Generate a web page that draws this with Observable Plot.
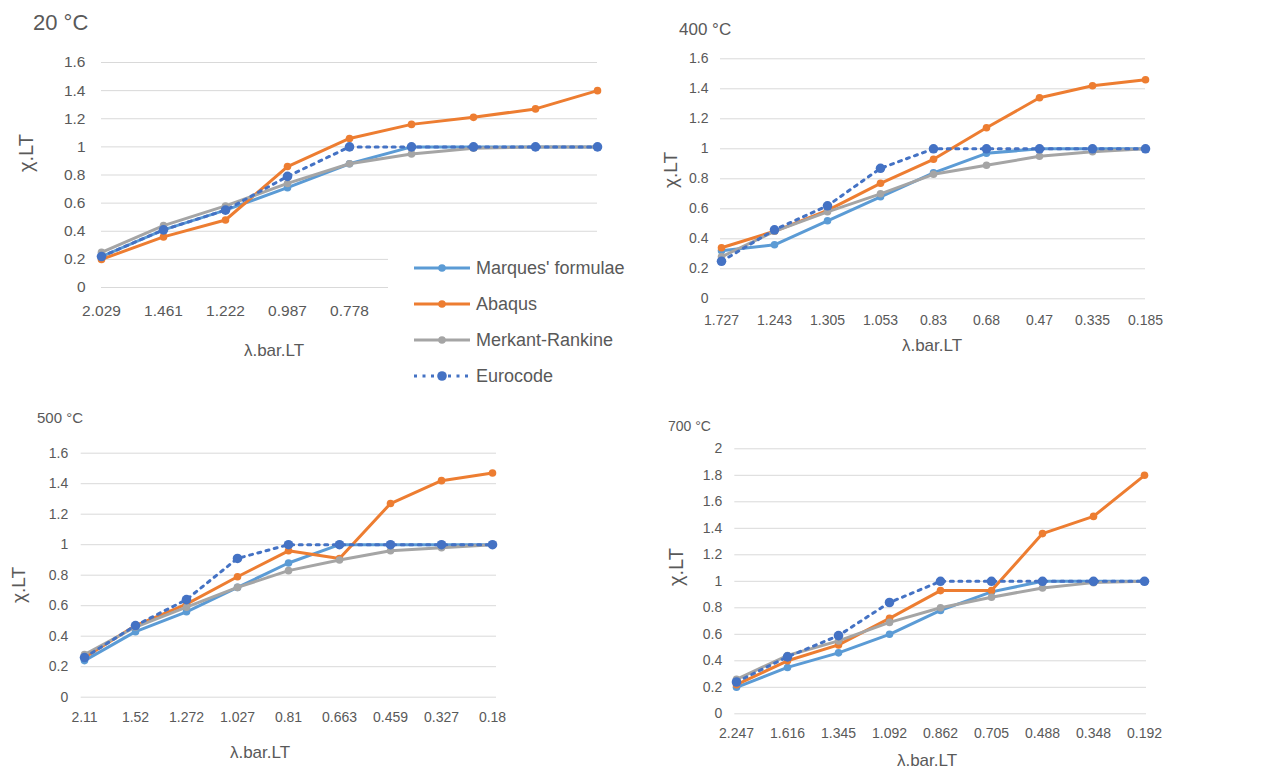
<!DOCTYPE html>
<html>
<head>
<meta charset="utf-8">
<script src="https://cdn.jsdelivr.net/npm/d3@7"></script>
<script src="https://cdn.jsdelivr.net/npm/@observablehq/plot@0.6"></script>
<style>
  body { margin: 0; background: #fff; }
  #wrap { position: relative; width: 1262px; height: 769px; overflow: hidden;
          font-family: "Liberation Sans", Arial, sans-serif; color: #595959; }
  .abs { position: absolute; white-space: nowrap; line-height: 1; }
</style>
</head>
<body>
<div id="wrap"></div>
<script>
// Series shared by all four temperature panels
const series = ["Marques' formulae", "Abaqus", "Merkant-Rankine", "Eurocode"];
const seriesColors = ["#5B9BD5", "#ED7D31", "#A5A5A5", "#4472C4"];

// 20 °C — only the first five slenderness labels are visible, the legend sits over the rest
const lambda20 = ["2.029", "1.461", "1.222", "0.987", "0.778"];
const marques20  = [0.22, 0.41, 0.55, 0.71, 0.88, 1.00, 1.00, 1.00, 1.00];
const abaqus20   = [0.20, 0.36, 0.48, 0.86, 1.06, 1.16, 1.21, 1.27, 1.40];
const merkant20  = [0.25, 0.44, 0.58, 0.74, 0.88, 0.95, 0.99, 1.00, 1.00];
const eurocode20 = [0.22, 0.41, 0.55, 0.79, 1.00, 1.00, 1.00, 1.00, 1.00];

// 400 °C
const lambda400 = ["1.727", "1.243", "1.305", "1.053", "0.83", "0.68", "0.47", "0.335", "0.185"];
const marques400  = [0.32, 0.36, 0.52, 0.68, 0.84, 0.97, 1.00, 1.00, 1.00];
const abaqus400   = [0.34, 0.45, 0.59, 0.77, 0.93, 1.14, 1.34, 1.42, 1.46];
const merkant400  = [0.28, 0.45, 0.58, 0.70, 0.83, 0.89, 0.95, 0.98, 1.00];
const eurocode400 = [0.25, 0.46, 0.62, 0.87, 1.00, 1.00, 1.00, 1.00, 1.00];

// 500 °C
const lambda500 = ["2.11", "1.52", "1.272", "1.027", "0.81", "0.663", "0.459", "0.327", "0.18"];
const marques500  = [0.24, 0.43, 0.56, 0.72, 0.88, 1.00, 1.00, 1.00, 1.00];
const abaqus500   = [0.26, 0.47, 0.61, 0.79, 0.96, 0.91, 1.27, 1.42, 1.47];
const merkant500  = [0.28, 0.46, 0.59, 0.72, 0.83, 0.90, 0.96, 0.98, 1.00];
const eurocode500 = [0.26, 0.47, 0.64, 0.91, 1.00, 1.00, 1.00, 1.00, 1.00];

// 700 °C
const lambda700 = ["2.247", "1.616", "1.345", "1.092", "0.862", "0.705", "0.488", "0.348", "0.192"];
const marques700  = [0.20, 0.35, 0.46, 0.60, 0.78, 0.92, 1.00, 1.00, 1.00];
const abaqus700   = [0.22, 0.40, 0.52, 0.72, 0.93, 0.93, 1.36, 1.49, 1.80];
const merkant700  = [0.26, 0.44, 0.55, 0.69, 0.80, 0.88, 0.95, 0.99, 1.00];
const eurocode700 = [0.24, 0.43, 0.59, 0.84, 1.00, 1.00, 1.00, 1.00, 1.00];

const wrap = document.getElementById("wrap");

function addText(text, css) {
  const el = document.createElement("div");
  el.className = "abs";
  el.textContent = text;
  Object.assign(el.style, css);
  wrap.appendChild(el);
  return el;
}

const fmt = d => String(+d.toFixed(1));
const family = '"Liberation Sans", Arial, sans-serif';

function panel(p) {
  const n = p.values[0].length;
  const yTicks = d3.range(0, p.ymax + 1e-9, 0.2).map(v => +v.toFixed(1));
  const marks = [
    Plot.ruleY(yTicks, {stroke: "#d9d9d9", strokeWidth: 1}),
    Plot.axisY(yTicks, {tickSize: 0, tickPadding: p.yPad, tickFormat: fmt, label: null,
                        fontSize: p.tickFont, fill: "#595959"}),
    Plot.axisX(d3.range(p.labels.length), {tickSize: 0, tickPadding: p.xPad, label: null,
                        tickFormat: i => p.labels[i], fontSize: p.tickFont, fill: "#595959"})
  ];
  p.values.forEach((vals, s) => {
    const rows = vals.map((v, i) => ({i, v}));
    const dotted = series[s] === "Eurocode";
    marks.push(Plot.line(rows, {
      x: "i", y: "v", stroke: seriesColors[s],
      strokeWidth: 3,
      strokeDasharray: dotted ? "3 5.5" : null,
      strokeLinejoin: "round"
    }));
    marks.push(Plot.dot(rows, {x: "i", y: "v", fill: seriesColors[s], r: dotted ? 4.8 : 3.8}));
  });
  const svg = Plot.plot({
    width: p.w, height: p.h,
    marginLeft: p.x0 - p.left, marginRight: p.left + p.w - p.x1,
    marginTop: p.y0 - p.top, marginBottom: p.top + p.h - p.y1,
    style: {fontFamily: family, background: "transparent", overflow: "visible"},
    x: {type: "point", domain: d3.range(n), padding: 0, axis: null},
    y: {domain: [0, p.ymax], axis: null},
    marks
  });
  Object.assign(svg.style, {position: "absolute", left: p.left + "px", top: p.top + "px"});
  wrap.appendChild(svg);

  addText(p.title, {left: p.titlePos[0] + "px", top: p.titlePos[1] + "px",
                    fontSize: p.titleSize + "px", transform: "translateY(-50%)"});
  addText("λ.bar.LT", {left: p.xTitle[0] + "px", top: p.xTitle[1] + "px",
                       fontSize: "17px", transform: "translate(-50%,-50%)"});
  addText("χ.LT", {left: p.yTitle[0] + "px", top: p.yTitle[1] + "px", fontSize: p.yTitleSize + "px",
                   transform: "translate(-50%,-50%) rotate(-90deg)"});
}

panel({
  title: "20 °C", titlePos: [33, 23], titleSize: 22,
  labels: lambda20, values: [marques20, abaqus20, merkant20, eurocode20], ymax: 1.6,
  left: 0, top: 0, w: 640, h: 340, x0: 101, x1: 597, y0: 62, y1: 287,
  yPad: 16, xPad: 17, tickFont: 15.5,
  xTitle: [274, 350], yTitle: [26, 153], yTitleSize: 20
});
panel({
  title: "400 °C", titlePos: [679, 29], titleSize: 17,
  labels: lambda400, values: [marques400, abaqus400, merkant400, eurocode400], ymax: 1.6,
  left: 640, top: 0, w: 622, h: 340, x0: 720, x1: 1145, y0: 58.3, y1: 298.3,
  yPad: 12, xPad: 16, tickFont: 14,
  xTitle: [932, 345], yTitle: [670, 170], yTitleSize: 19
});
panel({
  title: "500 °C", titlePos: [37, 417], titleSize: 15,
  labels: lambda500, values: [marques500, abaqus500, merkant500, eurocode500], ymax: 1.6,
  left: 0, top: 400, w: 640, h: 340, x0: 80.7, x1: 496, y0: 452.7, y1: 696.7,
  yPad: 13, xPad: 15, tickFont: 14,
  xTitle: [260, 752], yTitle: [18, 585], yTitleSize: 19
});
panel({
  title: "700 °C", titlePos: [668, 426], titleSize: 14,
  labels: lambda700, values: [marques700, abaqus700, merkant700, eurocode700], ymax: 2,
  left: 640, top: 400, w: 622, h: 350, x0: 734.3, x1: 1146, y0: 448.3, y1: 713.3,
  yPad: 12.5, xPad: 14, tickFont: 14,
  xTitle: [927, 760], yTitle: [676, 567], yTitleSize: 20
});

// Legend box of the 20 °C chart (white, drawn over the chart's lower right corner)
const legend = document.createElement("div");
Object.assign(legend.style, {position: "absolute", left: "388px", top: "245px",
                             width: "252px", height: "150px", background: "#fff"});
wrap.appendChild(legend);
const ns = "http://www.w3.org/2000/svg";
const lsvg = document.createElementNS(ns, "svg");
lsvg.setAttribute("width", 252);
lsvg.setAttribute("height", 150);
legend.appendChild(lsvg);
const rowY = [23, 59, 95, 131];
series.forEach((name, s) => {
  const y = rowY[s];
  const dotted = name === "Eurocode";
  const line = document.createElementNS(ns, "line");
  line.setAttribute("x1", 26); line.setAttribute("x2", 82);
  line.setAttribute("y1", y); line.setAttribute("y2", y);
  line.setAttribute("stroke", seriesColors[s]);
  line.setAttribute("stroke-width", 3);
  if (dotted) line.setAttribute("stroke-dasharray", "3 5.5");
  lsvg.appendChild(line);
  const c = document.createElementNS(ns, "circle");
  c.setAttribute("cx", 54); c.setAttribute("cy", y);
  c.setAttribute("r", dotted ? 4.8 : 3.8);
  c.setAttribute("fill", seriesColors[s]);
  lsvg.appendChild(c);
  const t = document.createElementNS(ns, "text");
  t.setAttribute("x", 88); t.setAttribute("y", y);
  t.setAttribute("dy", "0.35em");
  t.setAttribute("fill", "#595959");
  t.setAttribute("font-size", 18);
  t.setAttribute("font-family", family);
  t.textContent = name;
  lsvg.appendChild(t);
});
</script>
</body>
</html>
